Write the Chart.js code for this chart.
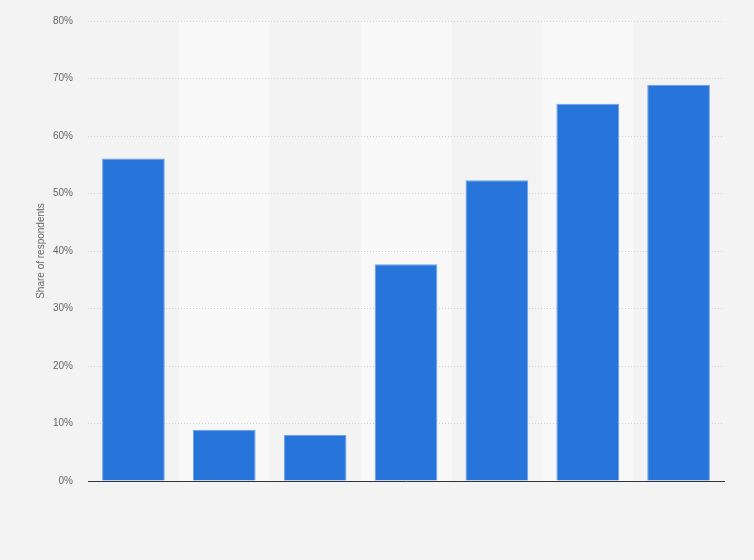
<!DOCTYPE html>
<html>
<head>
<meta charset="utf-8">
<script src="https://cdn.jsdelivr.net/npm/chart.js@4"></script>
<style>
  html, body { margin: 0; padding: 0; background: #f3f3f3; }
  #wrap { width: 754px; height: 560px; }
</style>
</head>
<body>
<div id="wrap"><canvas id="chart"></canvas></div>
<script>
const categories = ['', '', '', '', '', '', ''];
const shareValues = [56.1, 8.9, 8.0, 37.7, 52.3, 65.6, 68.9];
const yTicks = [0, 10, 20, 30, 40, 50, 60, 70, 80];

// lighter background band behind every second category (drawn under the grid)
const bandPlugin = {
    id: 'bands',
    beforeDraw: function (chart) {
        const ctx = chart.ctx;
        const area = chart.chartArea;
        const x = chart.scales.x;
        const step = (area.right - area.left) / categories.length;
        ctx.save();
        ctx.fillStyle = '#f8f8f8';
        categories.forEach(function (c, i) {
            if (i % 2 === 1) {
                const cx = x.getPixelForValue(i);
                ctx.fillRect(cx - step / 2, area.top, step, area.bottom - area.top);
            }
        });
        ctx.restore();
    }
};

document.addEventListener('DOMContentLoaded', function () {
    const ctx = document.getElementById('chart').getContext('2d');
    new Chart(ctx, {
        type: 'bar',
        data: {
            labels: categories,
            datasets: [{
                label: 'Share of respondents',
                data: shareValues,
                backgroundColor: '#2775db',
                borderColor: '#6fa0e8',
                borderWidth: 1,
                borderSkipped: 'bottom',
                categoryPercentage: 1.0,
                barPercentage: 0.69
            }]
        },
        options: {
            responsive: true,
            maintainAspectRatio: false,
            animation: false,
            layout: { padding: { top: 20, right: 30, bottom: 79, left: 35 } },
            plugins: {
                legend: { display: false },
                tooltip: { enabled: false }
            },
            scales: {
                x: {
                    grid: { display: false },
                    ticks: { display: false },
                    border: { display: true, color: '#333333', width: 1 },
                    afterFit: function (scale) { scale.height = 0; }
                },
                y: {
                    min: 0,
                    max: 80,
                    afterBuildTicks: function (scale) {
                        scale.ticks = yTicks.map(v => ({ value: v }));
                    },
                    afterFit: function (scale) { scale.width = 53; },
                    ticks: {
                        color: '#666666',
                        font: { family: 'Arial, "Liberation Sans", sans-serif', size: 10 },
                        padding: 15,
                        callback: function (value) { return value + '%'; }
                    },
                    grid: {
                        color: '#d2d2d2',
                        drawTicks: false
                    },
                    border: { display: false, dash: [1, 2] },
                    title: {
                        display: true,
                        text: 'Share of respondents',
                        color: '#666666',
                        font: { family: 'Arial, "Liberation Sans", sans-serif', size: 10 },
                        padding: 0
                    }
                }
            }
        },
        plugins: [bandPlugin]
    });
});
</script>
</body>
</html>
